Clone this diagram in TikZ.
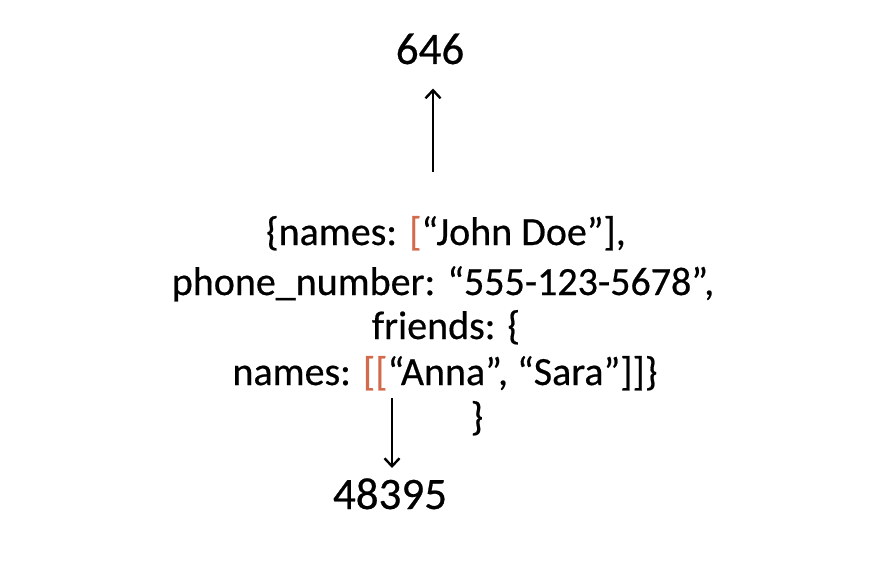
\documentclass[tikz,border=0pt]{standalone}
\usepackage{fontspec}
\setmainfont{Carlito}
\usetikzlibrary{arrows.meta}
\definecolor{orng}{RGB}{211,106,76}
\tikzset{
  txt/.style={inner sep=0pt, anchor=base, font=\fontsize{40}{48}\selectfont\addfontfeature{FakeBold=0.5}},
  num/.style={txt, font=\fontsize{45}{54}\selectfont\addfontfeature{FakeBold=0.5}},
  arr/.style={line width=2.4pt, -{Straight Barb[length=8pt,width=15pt,line width=2.4pt]}}
}
\begin{document}
\begin{tikzpicture}[x=1pt,y=1pt]
\useasboundingbox (0,0) rectangle (888,-575);
\node[num] (n646) at (430,-64) {646};
\node[txt] (l1) at (446,-245) {\{names: {\color{orng}[}“John Doe”],};
\node[txt] (l2) at (443,-295) {phone\_number: “555-123-5678”,};
\node[txt] (l3) at (446,-339) {friends: \{};
\node[txt] (l4) at (445,-385) {names: {\color{orng}[[}“Anna”, “Sara”]]\}};
\node[txt] (l5) at (477,-430) {\}};
\node[num] (n48395) at (390,-509) {48395};
\coordinate (a1) at (433,-172);
\coordinate (a2) at (392,-398);
\draw[arr, shorten >=24pt] (a1) -- (a1 |- n646.south);
\draw[arr, shorten >=41pt] (a2) -- (a2 |- n48395.base);
\end{tikzpicture}
\end{document}
